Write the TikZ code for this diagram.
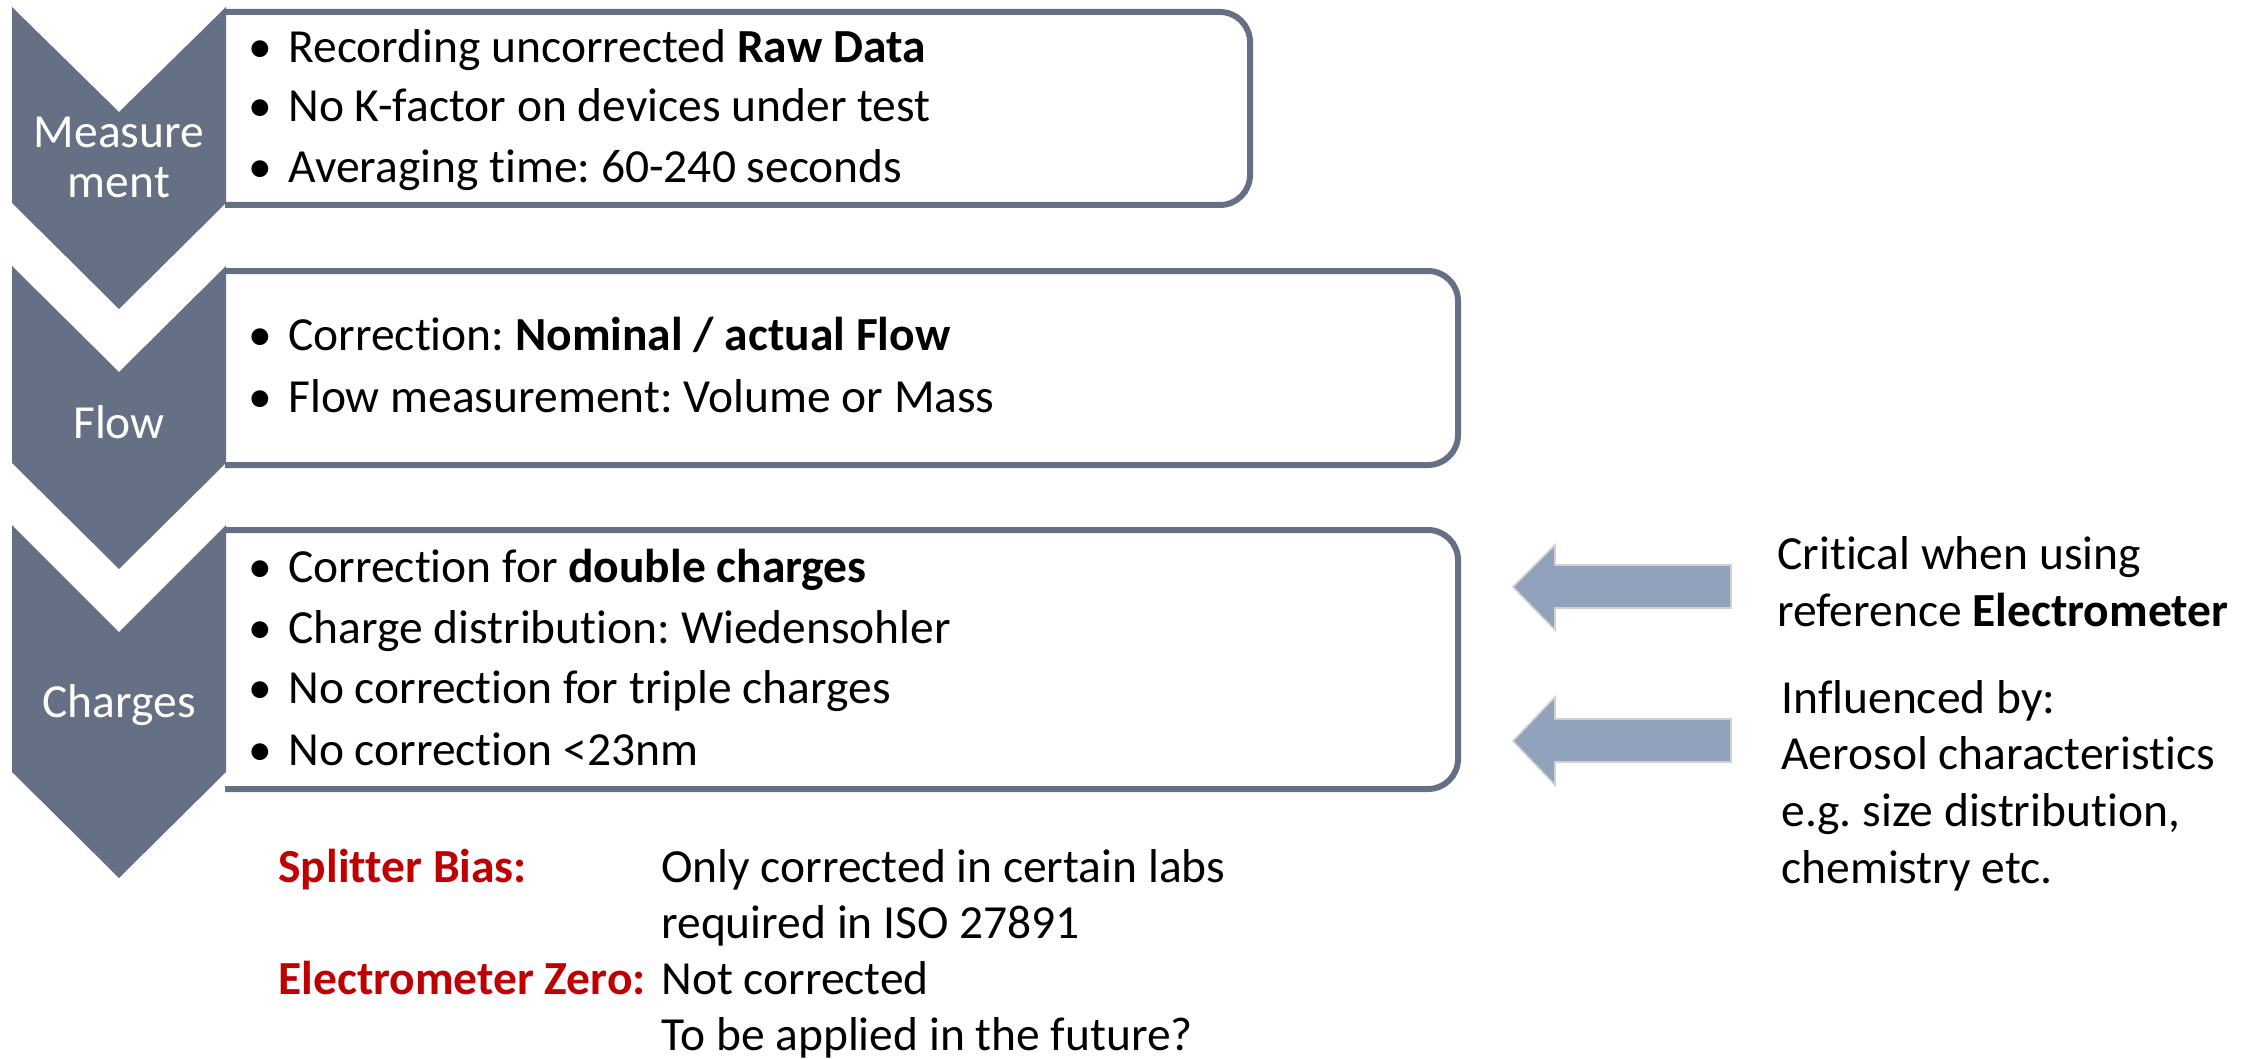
\documentclass[tikz,border=0pt]{standalone}
\usepackage{fontspec}
\setmainfont{Carlito}[Ligatures=NoCommon]
\frenchspacing
\definecolor{chev}{RGB}{102,112,133}
\definecolor{arr}{RGB}{145,162,188}
\definecolor{arredge}{RGB}{208,208,208}
\definecolor{redlab}{RGB}{192,0,0}
\newcommand\myBullet{\llap{\makebox[0pt]{•}\hspace{14pt}}}
\begin{document}
\begin{tikzpicture}[x=0.5pt,y=-0.5pt,
  txt/.style={anchor=base west, inner sep=0pt, font=\fontsize{23.75pt}{28pt}\selectfont},
  redtxt/.style={txt, text=redlab, font=\fontsize{23.75pt}{28pt}\selectfont\bfseries},
  chevlabel/.style={anchor=base, inner sep=0pt, text=white, font=\fontsize{23.75pt}{28pt}\selectfont},
  boxline/.style={draw=chev, line width=3pt, rounded corners=15pt},
  chevshape/.style={fill=chev},
  arrowshape/.style={fill=arr, draw=arredge, line width=0.8pt}]
\useasboundingbox (0,0) rectangle (2257,1059);

% boxes
\draw[boxline] (225,12) -- (1250,12) -- (1250,205) -- (225,205);
\draw[boxline] (225,271) -- (1458,271) -- (1458,465) -- (225,465);
\draw[boxline] (225,530) -- (1458,530) -- (1458,789) -- (225,789);

% chevrons
\fill[chevshape] (12,7) -- (119,112) -- (226,7) -- (226,203) -- (119,309) -- (12,203) -- cycle;
\fill[chevshape] (12,266) -- (119,372) -- (226,266) -- (226,463) -- (119,569) -- (12,463) -- cycle;
\fill[chevshape] (12,525) -- (119,632) -- (226,525) -- (226,772) -- (119,878) -- (12,772) -- cycle;

\node[chevlabel] (c1a) at (119,148) {Measure};
\node[chevlabel] (c1b) at (119,198) {ment};
\node[chevlabel] (c2) at (119,438) {Flow};
\node[chevlabel] (c3) at (119,717) {Charges};

% box texts
\node[txt] (b1a) at (288,63) {\myBullet Recording uncorrected \textbf{Raw Data}};
\node[txt] (b1b) at (288,122) {\myBullet No K-factor on devices under test};
\node[txt] (b1c) at (288,183) {\myBullet Averaging time: 60-240 seconds};

\node[txt] (b2a) at (288,350) {\myBullet Correction: \textbf{Nominal / actual Flow}};
\node[txt] (b2b) at (288,412) {\myBullet Flow measurement: Volume or Mass};

\node[txt] (b3a) at (288,582) {\myBullet Correction for \textbf{double charges}};
\node[txt] (b3b) at (288,643) {\myBullet Charge distribution: Wiedensohler};
\node[txt] (b3c) at (288,703) {\myBullet No correction for triple charges};
\node[txt] (b3d) at (288,765) {\myBullet No correction <23nm};

% bottom texts
\node[redtxt] (sb) at (278,882) {Splitter Bias:};
\node[txt] (sb1) at (661,882) {Only corrected in certain labs};
\node[txt] (sb2) at (661,938) {required in ISO 27891};
\node[redtxt] (ez) at (278,994) {Electrometer Zero:};
\node[txt] (ez1) at (661,994) {Not corrected};
\node[txt] (ez2) at (661,1050) {To be applied in the future?};

% arrows
\draw[arrowshape] (1731,565) -- (1555,565) -- (1555,545) -- (1513,587) -- (1555,630) -- (1555,608) -- (1731,608) -- cycle;
\draw[arrowshape] (1731,719) -- (1555,719) -- (1555,697) -- (1513,741) -- (1555,785) -- (1555,762) -- (1731,762) -- cycle;

% right texts
\node[txt] (r1a) at (1777,569) {Critical when using};
\node[txt] (r1b) at (1777,626) {reference \textbf{Electrometer}};
\node[txt] (r2a) at (1781,713) {Influenced by:};
\node[txt] (r2b) at (1781,769) {Aerosol characteristics};
\node[txt] (r2c) at (1781,826) {e.g. size distribution,};
\node[txt] (r2d) at (1781,883) {chemistry etc.};
\end{tikzpicture}
\end{document}
